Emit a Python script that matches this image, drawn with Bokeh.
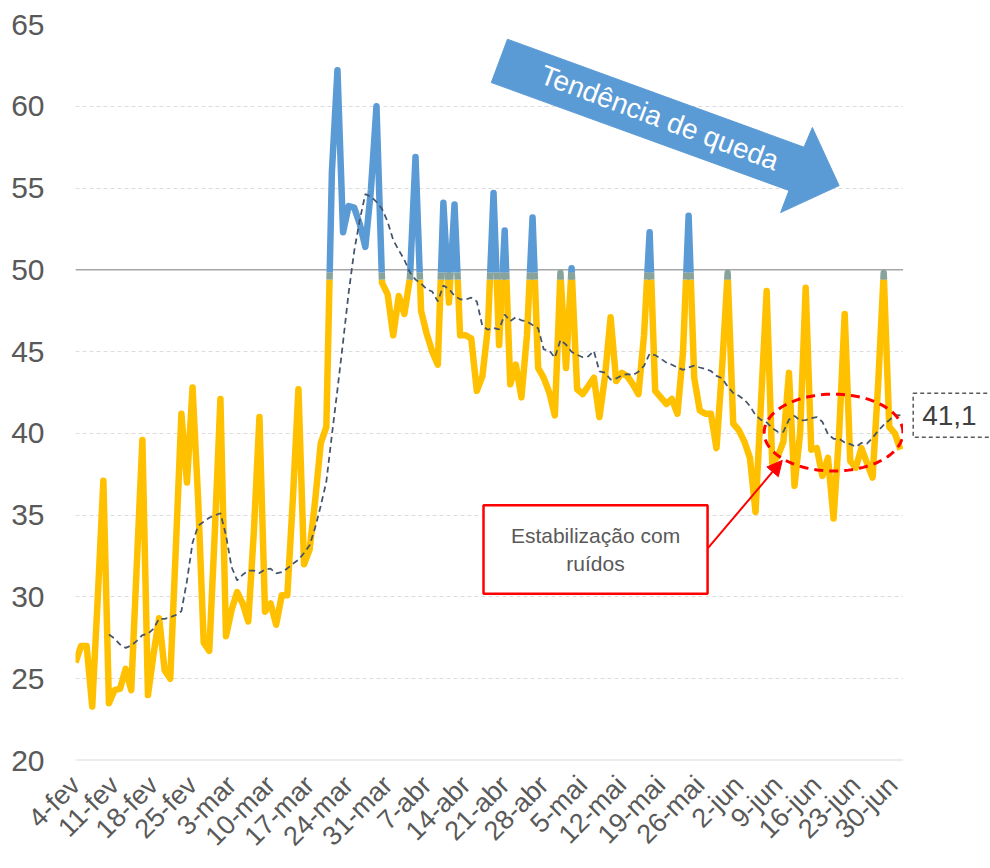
import numpy as np
import pandas as pd
from bokeh.plotting import figure
from bokeh.layouts import row
from bokeh.models import (Range1d, FixedTicker, Span, Label, BoxAnnotation, Arrow,
                          NormalHead, PolyAnnotation)
from bokeh.embed import file_html
from bokeh.resources import INLINE

# ---------------- data ----------------
tick_labels = ["4-fev", "11-fev", "18-fev", "25-fev", "3-mar", "10-mar", "17-mar",
               "24-mar", "31-mar", "7-abr", "14-abr", "21-abr", "28-abr", "5-mai",
               "12-mai", "19-mai", "26-mai", "2-jun", "9-jun", "16-jun", "23-jun",
               "30-jun"]

# daily values, 4-fev .. 1-jul
values = [
    26.0, 27.0, 27.0, 23.3, 30.0, 37.1, 23.5, 24.3, 24.4, 25.6,
    24.3, 32.0, 39.6, 24.0, 26.5, 28.7, 25.5, 25.0, 33.0, 41.2,
    37.0, 42.8, 36.0, 27.2, 26.7, 34.0, 42.1, 27.6, 29.2, 30.3,
    29.6, 28.5, 34.0, 41.0, 29.1, 29.6, 28.3, 30.1, 30.1, 36.0,
    42.7, 32.0, 32.9, 35.9, 39.4, 40.4, 56.0, 62.2, 52.3, 53.9,
    53.8, 52.8, 51.4, 54.9, 60.0, 49.2, 48.5, 46.0, 48.4, 47.3,
    49.5, 56.9, 47.5, 46.1, 45.0, 44.2, 54.1, 48.0, 54.0, 46.0,
    46.0, 45.8, 42.6, 43.5, 46.5, 54.7, 45.4, 52.4, 43.0, 44.2,
    42.2, 46.0, 53.2, 44.0, 43.4, 42.5, 41.1, 49.8, 44.0, 50.1,
    42.7, 42.4, 42.9, 43.4, 41.0, 43.5, 47.1, 43.2, 43.7, 43.5,
    43.0, 42.4, 46.0, 52.3, 42.6, 42.2, 41.8, 42.1, 41.2, 45.0,
    53.3, 43.4, 41.4, 41.2, 41.2, 39.1, 44.0, 49.8, 40.6, 40.2,
    39.5, 38.5, 35.2, 42.0, 48.7, 38.2, 38.6, 39.5, 43.7, 36.8,
    40.0, 48.9, 39.0, 39.1, 37.4, 38.5, 34.8, 40.0, 47.3, 38.3,
    37.9, 39.1, 38.2, 37.3, 43.0, 49.8, 40.4, 40.0, 39.0,
]
threshold = 50
last_avg_label = "41,1"

days = list(range(len(values)))
ma7 = pd.Series(values).rolling(7).mean().tolist()

# ---------------- colored line split at the threshold ----------------
YELLOW, MIXED, BLUE = "#FFC000", "#88A39B", "#5B9BD5"
bounds = [threshold - 0.6, threshold - 0.15]
band_colors = [YELLOW, MIXED, BLUE]


def band_of(y):
    return sum(1 for b in bounds if y >= b)


pts = []
for i in range(len(values) - 1):
    x0, y0, x1, y1 = days[i], values[i], days[i + 1], values[i + 1]
    pts.append((x0, y0))
    cr = []
    for b in bounds:
        if (y0 - b) * (y1 - b) < 0:
            t = (b - y0) / (y1 - y0)
            cr.append((t, x0 + t * (x1 - x0), b))
    for t, cx, cy in sorted(cr):
        pts.append((cx, cy))
pts.append((days[-1], values[-1]))

runs = {k: ([], []) for k in range(3)}
cur_band, cur_x, cur_y = None, [], []
for (xa, ya), (xb, yb) in zip(pts[:-1], pts[1:]):
    bd = band_of((ya + yb) / 2)
    if bd != cur_band:
        if cur_band is not None:
            runs[cur_band][0].append(cur_x)
            runs[cur_band][1].append(cur_y)
        cur_band, cur_x, cur_y = bd, [xa], [ya]
    cur_x.append(xb)
    cur_y.append(yb)
runs[cur_band][0].append(cur_x)
runs[cur_band][1].append(cur_y)

# ---------------- figure ----------------
FONT = "Liberation Sans"
GREY = "#595959"
H = 866
TOP, BOTTOM = 24, 106

p = figure(width=903, height=H, output_backend="svg", toolbar_location=None,
           x_range=Range1d(0, 148.55), y_range=Range1d(20, 65),
           min_border_left=75, min_border_right=0, min_border_top=TOP,
           min_border_bottom=BOTTOM)
p.outline_line_color = None
p.xgrid.visible = False
p.ygrid.grid_line_color = "#DCDCDC"
p.ygrid.grid_line_dash = "4 3"
p.ygrid.grid_line_width = 1

p.yaxis.ticker = FixedTicker(ticks=list(range(20, 66, 5)))
p.xaxis.ticker = FixedTicker(ticks=[7 * i for i in range(len(tick_labels))])
p.xaxis.major_label_overrides = {7 * i: lab for i, lab in enumerate(tick_labels)}
p.xaxis.major_label_orientation = np.pi / 4
for ax in (p.xaxis, p.yaxis):
    ax.axis_line_color = None
    ax.major_tick_line_color = None
    ax.minor_tick_line_color = None
    ax.major_label_text_font = FONT
    ax.major_label_text_color = GREY
p.yaxis.major_label_text_font_size = "30px"
p.xaxis.major_label_text_font_size = "27px"
p.yaxis.major_label_standoff = 25
p.xaxis.major_label_standoff = 14

p.add_layout(Span(location=20, dimension="width", line_color="#D9D9D9",
                  line_width=2, level="underlay"))
p.add_layout(Span(location=threshold, dimension="width", line_color="#A6A6A6",
                  line_width=1.5, level="underlay"))

for k in range(3):
    if runs[k][0]:
        p.multi_line(xs=runs[k][0], ys=runs[k][1], line_color=band_colors[k],
                     line_width=6.5, line_join="round")

p.line(days, ma7, line_color="#44546A", line_width=1.75, line_dash="6 4")

# ---------------- annotations ----------------
# blue trend arrow (in data coordinates: day index, value)
arrow_x = [77.5, 130.7, 132.2, 137.0, 126.5, 128.0, 74.6]
arrow_y = [64.1, 57.5, 58.7, 55.15, 53.5, 54.85, 61.45]
p.patch(arrow_x, arrow_y, fill_color="#5B9BD5", line_color="#5B9BD5")
p.add_layout(Label(x=104.8, y=59.3, text="Tendência de queda", angle=-20.5,
                   angle_units="deg", text_align="center", text_baseline="middle",
                   text_color="white", text_font=FONT, text_font_size="28px"))

# red dashed ellipse
t = np.linspace(0, 2 * np.pi, 140)
ell_cx, ell_cy, ell_a, ell_b = 136.0, 40.05, 12.45, 2.35
p.add_layout(PolyAnnotation(xs=list(ell_cx + ell_a * np.cos(t)),
                            ys=list(ell_cy + ell_b * np.sin(t)),
                            fill_alpha=0, line_color="#FF0000", line_alpha=1,
                            line_width=3, line_dash="9 6"))

# callout box
p.add_layout(BoxAnnotation(left=73.2, right=113.4, top=35.6, bottom=30.2,
                           fill_color="white", fill_alpha=1, line_color="#FF0000",
                           line_width=2.5, line_alpha=1))
p.add_layout(Label(x=93.3, y=32.9, text="Estabilização com\nruídos",
                   text_align="center", text_baseline="middle", text_color=GREY,
                   text_font=FONT, text_font_size="21px", text_line_height=1.2))
p.add_layout(Arrow(x_start=113.5, y_start=33.0, x_end=126.8, y_end=38.35,
                   line_color="#FF0000", line_width=2,
                   end=NormalHead(size=15, fill_color="#FF0000", line_color="#FF0000")))

# side panel with the last moving-average value
side = figure(width=87, height=H, output_backend="svg", toolbar_location=None,
              x_range=Range1d(0, 87), y_range=Range1d(20, 65),
              min_border_left=0, min_border_right=0, min_border_top=TOP,
              min_border_bottom=BOTTOM)
side.axis.visible = False
side.grid.visible = False
side.outline_line_color = None
side.add_layout(BoxAnnotation(left=9.7, right=120, top=42.46, bottom=39.77,
                              fill_color="white", fill_alpha=1, line_color=GREY,
                              line_alpha=1, line_width=1.5, line_dash="4 3"))
side.add_layout(Label(x=18.7, y=41.1, text=last_avg_label, text_align="left",
                      text_baseline="middle", text_color="#404040", text_font=FONT,
                      text_font_size="28px"))

layout = row(p, side)
open("out.html", "w").write(file_html(layout, INLINE))
